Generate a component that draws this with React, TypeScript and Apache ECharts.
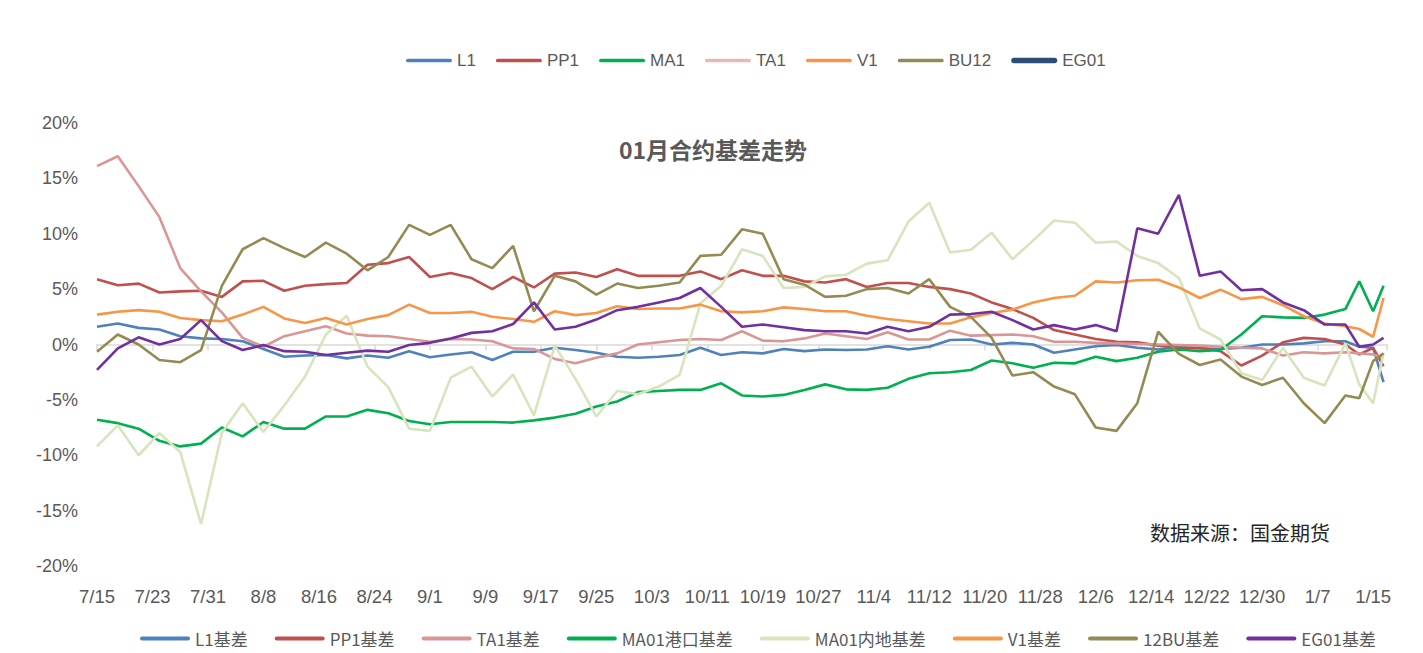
import React, { useEffect, useRef } from "react";
import * as echarts from "echarts";

// x positions: calendar-day offsets from 7/15
const days = [0, 3, 6, 9, 12, 15, 18, 21, 24, 27, 30, 33, 36, 39, 42, 45, 48, 51, 54, 57, 60, 63, 66, 69, 72, 75, 78, 81, 84, 87, 90, 93, 96, 99, 102, 105, 108, 111, 114, 117, 120, 123, 126, 129, 132, 135, 138, 141, 144, 147, 150, 153, 156, 159, 162, 165, 168, 171, 174, 177, 180, 182, 184, 185.5];

const L1 = [1.6, 1.9, 1.5, 1.35, 0.75, 0.55, 0.5, 0.3, -0.4, -1.1, -1.0, -0.95, -1.25, -1.0, -1.2, -0.6, -1.15, -0.9, -0.7, -1.4, -0.65, -0.65, -0.3, -0.5, -0.75, -1.1, -1.2, -1.1, -0.95, -0.3, -0.95, -0.7, -0.8, -0.4, -0.6, -0.45, -0.5, -0.45, -0.15, -0.45, -0.2, 0.4, 0.45, 0.0, 0.15, 0.0, -0.75, -0.45, -0.15, -0.05, -0.3, -0.45, -0.2, -0.35, -0.4, -0.3, 0.0, 0.0, 0.1, 0.3, 0.3, -0.2, -0.3, -3.4];
const PP1 = [5.9, 5.35, 5.5, 4.7, 4.8, 4.85, 4.3, 5.7, 5.75, 4.85, 5.3, 5.45, 5.55, 7.2, 7.35, 7.9, 6.1, 6.45, 6.0, 5.0, 6.1, 5.15, 6.4, 6.5, 6.1, 6.8, 6.2, 6.2, 6.2, 6.6, 5.9, 6.7, 6.2, 6.2, 5.7, 5.6, 5.9, 5.2, 5.55, 5.55, 5.2, 5.0, 4.6, 3.8, 3.2, 2.4, 1.3, 0.9, 0.5, 0.25, 0.2, -0.1, -0.3, -0.3, -0.6, -1.9, -1.0, 0.2, 0.6, 0.5, 0.0, -0.9, -0.3, -1.95];
const TA1 = [16.1, 17.0, 14.3, 11.5, 6.9, 4.8, 2.9, 0.6, -0.2, 0.75, 1.2, 1.65, 1.0, 0.8, 0.75, 0.5, 0.25, 0.5, 0.45, 0.3, -0.35, -0.4, -1.3, -1.7, -1.2, -0.8, 0.0, 0.2, 0.4, 0.5, 0.4, 1.2, 0.35, 0.3, 0.55, 1.0, 0.75, 0.5, 1.1, 0.45, 0.45, 1.25, 0.8, 0.85, 0.9, 0.75, 0.25, 0.25, 0.15, 0.1, 0.05, 0.0, -0.05, -0.1, -0.2, -0.3, -0.35, -1.0, -0.7, -0.8, -0.7, -0.8, -0.9, -1.2];
const MA01Port = [-6.8, -7.1, -7.6, -8.7, -9.2, -8.95, -7.5, -8.3, -7.0, -7.6, -7.6, -6.5, -6.5, -5.9, -6.2, -6.9, -7.2, -7.0, -7.0, -7.0, -7.05, -6.85, -6.6, -6.25, -5.6, -5.15, -4.3, -4.2, -4.1, -4.1, -3.5, -4.6, -4.7, -4.55, -4.1, -3.6, -4.05, -4.1, -3.9, -3.1, -2.6, -2.5, -2.3, -1.45, -1.7, -2.1, -1.65, -1.7, -1.1, -1.5, -1.2, -0.65, -0.45, -0.6, -0.5, 0.9, 2.55, 2.45, 2.4, 2.7, 3.2, 5.7, 3.0, 5.3];
const MA01Inland = [-9.2, -7.3, -10.0, -8.0, -9.7, -16.2, -8.0, -5.3, -7.9, -5.5, -2.9, 0.9, 2.6, -2.0, -3.85, -7.6, -7.8, -3.0, -2.0, -4.7, -2.7, -6.4, -0.1, -3.1, -6.5, -4.2, -4.5, -3.8, -2.75, 3.7, 5.3, 8.6, 8.0, 5.1, 5.2, 6.15, 6.3, 7.3, 7.6, 11.1, 12.8, 8.3, 8.55, 10.1, 7.7, 9.4, 11.2, 11.0, 9.2, 9.3, 8.0, 7.35, 6.0, 1.45, 0.45, -2.6, -3.2, -0.3, -3.0, -3.7, 0.1, -3.6, -5.3, -0.75];
const V1 = [2.7, 2.95, 3.1, 2.95, 2.4, 2.2, 2.1, 2.7, 3.4, 2.35, 1.95, 2.4, 1.8, 2.3, 2.65, 3.6, 2.85, 2.85, 2.95, 2.5, 2.3, 2.05, 3.0, 2.65, 2.85, 3.45, 3.2, 3.25, 3.25, 3.6, 3.0, 2.9, 3.0, 3.35, 3.2, 3.0, 3.0, 2.6, 2.3, 2.1, 1.9, 1.9, 2.45, 2.85, 3.15, 3.8, 4.2, 4.4, 5.7, 5.6, 5.8, 5.85, 5.15, 4.2, 4.95, 4.1, 4.3, 3.55, 2.55, 1.9, 1.65, 1.4, 0.7, 4.2];
const BU12 = [-0.65, 0.9, 0.0, -1.4, -1.6, -0.5, 5.3, 8.6, 9.6, 8.7, 7.9, 9.2, 8.2, 6.7, 7.9, 10.8, 9.9, 10.8, 7.7, 6.9, 8.9, 3.0, 6.2, 5.7, 4.5, 5.5, 5.1, 5.3, 5.6, 8.0, 8.1, 10.4, 10.0, 5.9, 5.4, 4.3, 4.4, 5.0, 5.1, 4.6, 5.9, 3.4, 2.5, 0.6, -2.8, -2.5, -3.8, -4.5, -7.5, -7.8, -5.3, 1.15, -0.85, -1.85, -1.35, -2.9, -3.65, -3.0, -5.3, -7.1, -4.6, -4.85, -1.5, -0.8];
const EG01 = [-2.3, -0.35, 0.65, 0.0, 0.5, 2.2, 0.3, -0.5, -0.05, -0.6, -0.65, -0.95, -0.75, -0.55, -0.65, -0.05, 0.15, 0.55, 1.05, 1.2, 1.85, 3.8, 1.35, 1.6, 2.25, 3.1, 3.4, 3.8, 4.2, 5.1, 3.4, 1.6, 1.8, 1.55, 1.3, 1.2, 1.2, 1.0, 1.6, 1.2, 1.6, 2.7, 2.75, 2.95, 2.2, 1.35, 1.75, 1.35, 1.75, 1.2, 10.5, 10.0, 13.5, 6.2, 6.6, 4.9, 5.0, 3.8, 3.1, 1.8, 1.8, -0.2, 0.0, 0.6];

const basisNames = ["L1基差", "PP1基差", "TA1基差", "MA01港口基差", "MA01内地基差", "V1基差", "12BU基差", "EG01基差"];
const basisValues = [L1, PP1, TA1, MA01Port, MA01Inland, V1, BU12, EG01];
const basisColors = ["#4f81bd", "#c0504d", "#d99694", "#00b050", "#d7e4bd", "#f79646", "#948a54", "#7030a0"];

const contractNames = ["L1", "PP1", "MA1", "TA1", "V1", "BU12", "EG01"];
const contractColors = ["#4f81bd", "#c0504d", "#00b050", "#e6b9b8", "#f79646", "#948a54", "#2c4d75"];

const startDate = { year: 2019, month: 6, day: 15 };
const xMin = 0;
const xMax = 186;
const xInterval = 8;
const yMin = -20;
const yMax = 20;
const yInterval = 5;

const TITLE = "01月合约基差走势";
const SOURCE = "数据来源：国金期货";

const LATIN = "'Liberation Sans', 'Noto Sans CJK SC', sans-serif";
const CJK = "'Noto Sans CJK SC', 'Liberation Sans', sans-serif";

const THIN_ICON = "path://M2,0 L48,0 A2,2 0 0 1 48,4 L2,4 A2,2 0 0 1 2,0 Z";
const THICK_ICON = "path://M3,0 L47,0 A3,3 0 0 1 47,6 L3,6 A3,3 0 0 1 3,0 Z";

function dayLabel(v: number): string {
  if (v % xInterval !== 0) return "";
  const d = new Date(startDate.year, startDate.month, startDate.day + v);
  return d.getMonth() + 1 + "/" + d.getDate();
}

export default function App() {
  const ref = useRef<HTMLDivElement>(null);
  useEffect(() => {
    document.body.style.margin = "0";
    if (!ref.current) return;
    const chart = echarts.init(ref.current, null, { renderer: "svg" });

    const basisSeries = basisNames.map((name, i) => ({
      name,
      type: "line",
      xAxisIndex: 0,
      yAxisIndex: 0,
      symbol: "none",
      showSymbol: false,
      data: days.map((d, j) => [d, basisValues[i][j]]),
      lineStyle: { color: basisColors[i], width: 2.6 },
      itemStyle: { color: basisColors[i] },
      emphasis: { disabled: true },
      z: 2 + i,
    }));

    const contractSeries = contractNames.map((name, i) => ({
      name,
      type: "line",
      xAxisIndex: 0,
      yAxisIndex: 0,
      symbol: "none",
      data: [],
      lineStyle: { color: contractColors[i], width: 4 },
      itemStyle: { color: contractColors[i] },
    }));

    chart.setOption({
      animation: false,
      backgroundColor: "#ffffff",
      title: {
        text: TITLE,
        left: 708,
        textAlign: "center",
        top: 132,
        textStyle: { fontFamily: CJK, fontSize: 23, fontWeight: "bold", color: "#595959" },
      },
      graphic: [
        {
          type: "text",
          left: 1150,
          top: 522,
          style: { text: SOURCE, font: "20px 'Noto Sans CJK SC', serif", fill: "#262626" },
        },
      ],
      legend: [
        {
          data: contractNames.map((n) => ({
            name: n,
            icon: n === "EG01" ? THICK_ICON : THIN_ICON,
          })),
          left: 401,
          top: 47,
          itemWidth: 46,
          itemHeight: 8,
          itemGap: 20,
          textStyle: { fontFamily: LATIN, fontSize: 17, color: "#595959" },
          selectedMode: false,
        },
        {
          data: basisNames.map((n) => ({ name: n, icon: THIN_ICON })),
          left: 135,
          top: 625,
          itemWidth: 50,
          itemHeight: 8,
          itemGap: 27,
          textStyle: { fontFamily: CJK, fontSize: 17, color: "#595959" },
          selectedMode: false,
        },
      ],
      grid: { left: 97, right: 36, top: 123, bottom: 87, containLabel: false, outerBoundsMode: "none" },
      xAxis: [
        {
          type: "value",
          min: xMin,
          max: xMax,
          interval: xInterval,
          position: "bottom",
          axisLine: { show: false, onZero: false },
          axisTick: { show: false },
          splitLine: { show: false },
          axisLabel: {
            formatter: dayLabel,
            showMaxLabel: false,
            margin: 21,
            fontFamily: LATIN,
            fontSize: 18.5,
            color: "#595959",
          },
        },
        {
          type: "value",
          min: xMin,
          max: xMax,
          interval: xInterval,
          position: "bottom",
          axisLine: { show: true, onZero: true, lineStyle: { color: "#d9d9d9", width: 1.5 } },
          axisTick: { show: true, length: 6, lineStyle: { color: "#d9d9d9", width: 1.5 } },
          splitLine: { show: false },
          axisLabel: { show: false },
        },
      ],
      yAxis: {
        type: "value",
        min: yMin,
        max: yMax,
        interval: yInterval,
        axisLine: { show: false },
        axisTick: { show: false },
        splitLine: { show: false },
        axisLabel: {
          formatter: (v: number) => v + "%",
          margin: 19,
          fontFamily: LATIN,
          fontSize: 18,
          color: "#595959",
        },
      },
      series: [...contractSeries, ...basisSeries],
    });

    return () => chart.dispose();
  }, []);
  return <div ref={ref} style={{ width: 1423, height: 653 }} />;
}
